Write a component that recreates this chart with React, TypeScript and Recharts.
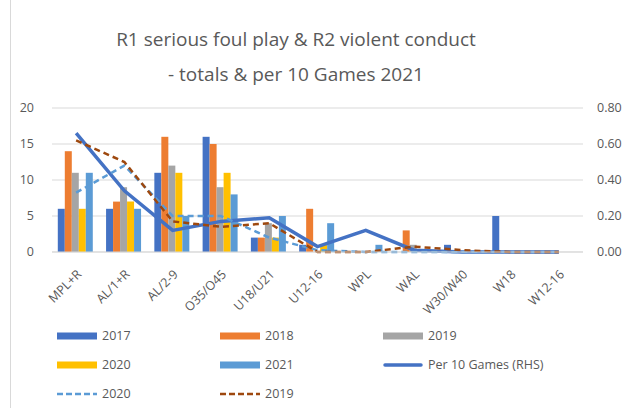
import React from "react";
import {
  ComposedChart,
  Bar,
  Line,
  XAxis,
  YAxis,
  CartesianGrid,
} from "recharts";

const categories = ["MPL+R", "AL/1+R", "AL/2-9", "O35/O45", "U18/U21", "U12-16", "WPL", "WAL", "W30/W40", "W18", "W12-16"];
const totals2017 = [6, 6, 11, 16, 2, 1, 0, 0, 1, 5, 0];
const totals2018 = [14, 7, 16, 15, 2, 6, 0, 3, 0, 0, 0];
const totals2019 = [11, 9, 12, 9, 4, 0, 0, 1, 0, 0, 0];
const totals2020 = [6, 7, 11, 11, 2, 1, 0, 0, 0, 0, 0];
const totals2021 = [11, 6, 5, 8, 5, 4, 1, 0, 0, 0, 0];
const per10Games = [0.66, 0.34, 0.12, 0.17, 0.19, 0.03, 0.12, 0.01, 0, 0, 0];
const per10Games2020 = [0.33, 0.48, 0.2, 0.2, 0.08, 0.01, 0, 0, 0, 0, 0];
const per10Games2019 = [0.62, 0.5, 0.17, 0.14, 0.16, 0, 0, 0.03, 0.01, 0, 0];
const leftTicks = [0, 5, 10, 15, 20];
const rightTicks = [0, 0.2, 0.4, 0.6, 0.8];

const data = categories.map((name, i) => ({
  name,
  y2017: totals2017[i],
  y2018: totals2018[i],
  y2019: totals2019[i],
  y2020: totals2020[i],
  y2021: totals2021[i],
  per10: per10Games[i],
  per10_2020: per10Games2020[i],
  per10_2019: per10Games2019[i],
}));

const FONT = "'Open Sans', sans-serif";
const TEXT = "#595959";

const legendItems = [
  { label: "2017", color: "#4472C4", kind: "bar" },
  { label: "2018", color: "#ED7D31", kind: "bar" },
  { label: "2019", color: "#A5A5A5", kind: "bar" },
  { label: "2020", color: "#FFC000", kind: "bar" },
  { label: "2021", color: "#5B9BD5", kind: "bar" },
  { label: "Per 10 Games (RHS)", color: "#4472C4", kind: "line" },
  { label: "2020", color: "#5B9BD5", kind: "dash" },
  { label: "2019", color: "#9E480E", kind: "dash" },
];

const XTick = (props: any) => {
  const { x, y, payload } = props;
  const ax = x + 3;
  const ay = y + 12;
  return (
    <text
      x={ax}
      y={ay}
      transform={`rotate(-45, ${ax}, ${ay})`}
      textAnchor="end"
      fill={TEXT}
      fontSize={12.5}
      fontFamily={FONT}
      dy="0.35em"
    >
      {payload.value}
    </text>
  );
};

const Swatch = ({ color, kind }: { color: string; kind: string }) => (
  <svg width={40} height={10} style={{ marginRight: 5, flex: "none" }}>
    {kind === "bar" && <rect x={0} y={1.5} width={40} height={7} fill={color} />}
    {kind === "line" && (
      <line x1={2} y1={5} x2={38} y2={5} stroke={color} strokeWidth={3.5} strokeLinecap="round" />
    )}
    {kind === "dash" && (
      <line x1={0} y1={5} x2={40} y2={5} stroke={color} strokeWidth={2.5} strokeDasharray="6 3" />
    )}
  </svg>
);

export default function App() {
  return (
    <div style={{ position: "relative", width: 624, height: 408, background: "#fff", fontFamily: FONT }}>
      <style>{"body{margin:0}"}</style>
      <div style={{ position: "absolute", left: 10, top: 0, width: 1, height: 408, background: "#D9D9D9" }} />
      <div
        style={{
          position: "absolute",
          left: 0,
          top: 22,
          width: 592,
          textAlign: "center",
          color: TEXT,
          fontSize: 19,
          lineHeight: "35px",
        }}
      >
        R1 serious foul play &amp; R2 violent conduct
        <br />- totals &amp; per 10 Games 2021
      </div>

      <ComposedChart
        width={624}
        height={408}
        data={data}
        margin={{ top: 108, right: 0, bottom: 96, left: 0 }}
        barCategoryGap="12%"
        barGap={0}
        style={{ position: "absolute", left: 0, top: 0 }}
      >
        <CartesianGrid vertical={false} stroke="#D9D9D9" yAxisId="left" />
        <XAxis
          dataKey="name"
          height={60}
          interval={0}
          tickLine={false}
          axisLine={{ stroke: "#D9D9D9" }}
          tick={<XTick />}
        />
        <YAxis
          yAxisId="left"
          width={52}
          domain={[0, 20]}
          ticks={leftTicks}
          tickLine={false}
          axisLine={false}
          tick={{ fill: TEXT, fontSize: 12.5, fontFamily: FONT }}
          tickMargin={12}
        />
        <YAxis
          yAxisId="right"
          orientation="right"
          width={41}
          domain={[0, 0.8]}
          ticks={rightTicks}
          tickFormatter={(v: number) => v.toFixed(2)}
          tickLine={false}
          axisLine={false}
          tick={{ fill: TEXT, fontSize: 12.5, fontFamily: FONT }}
          tickMargin={8}
        />
        <Bar yAxisId="left" dataKey="y2017" fill="#4472C4" isAnimationActive={false} />
        <Bar yAxisId="left" dataKey="y2018" fill="#ED7D31" isAnimationActive={false} />
        <Bar yAxisId="left" dataKey="y2019" fill="#A5A5A5" isAnimationActive={false} />
        <Bar yAxisId="left" dataKey="y2020" fill="#FFC000" isAnimationActive={false} />
        <Bar yAxisId="left" dataKey="y2021" fill="#5B9BD5" isAnimationActive={false} />
        <Line
          yAxisId="right"
          dataKey="per10"
          stroke="#4472C4"
          strokeWidth={3.5}
          dot={false}
          isAnimationActive={false}
        />
        <Line
          yAxisId="right"
          dataKey="per10_2020"
          stroke="#5B9BD5"
          strokeWidth={2.5}
          strokeDasharray="6 4"
          dot={false}
          isAnimationActive={false}
        />
        <Line
          yAxisId="right"
          dataKey="per10_2019"
          stroke="#9E480E"
          strokeWidth={2.5}
          strokeDasharray="6 4"
          dot={false}
          isAnimationActive={false}
        />
      </ComposedChart>

      <div
        style={{
          position: "absolute",
          left: 57,
          top: 326,
          display: "grid",
          gridTemplateColumns: "163px 163px 200px",
          rowGap: 10,
          color: TEXT,
          fontSize: 12.5,
        }}
      >
        {legendItems.map((item, i) => (
          <div key={i} style={{ display: "flex", alignItems: "center", height: 19 }}>
            <Swatch color={item.color} kind={item.kind} />
            <span>{item.label}</span>
          </div>
        ))}
      </div>
    </div>
  );
}
